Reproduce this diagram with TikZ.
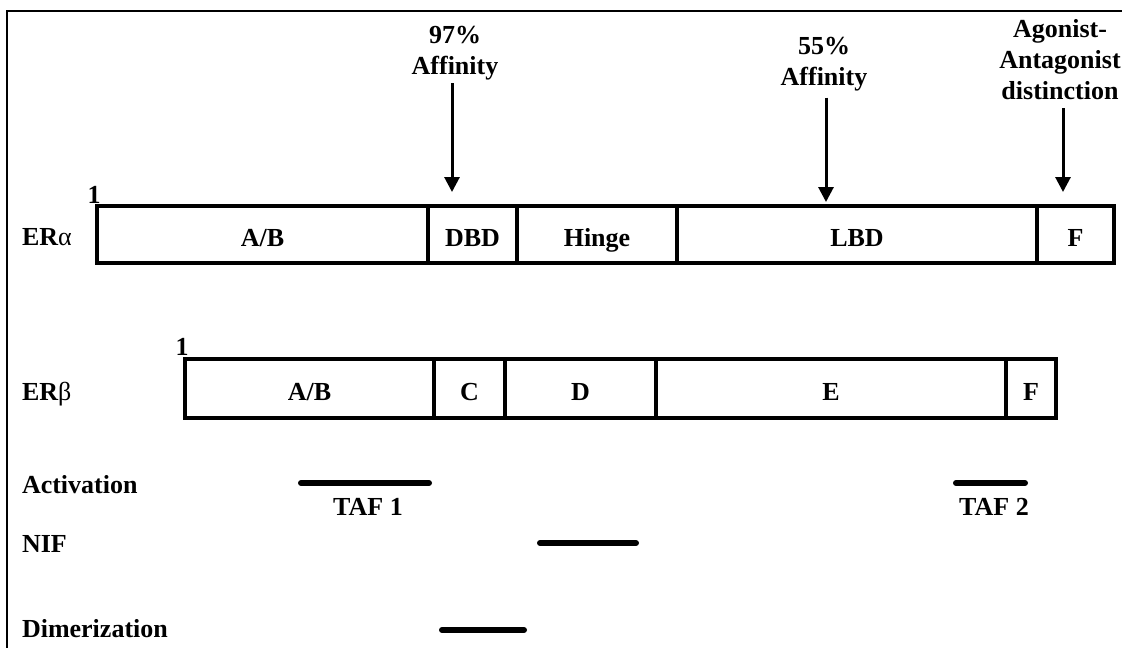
\documentclass[tikz,border=0pt]{standalone}
\usepackage{fontspec}
\setmainfont{Liberation Serif}
\usetikzlibrary{arrows.meta,calc}
\begin{document}
\begin{tikzpicture}[x=1pt,y=-1pt,
  every node/.style={font=\fontsize{26}{31}\selectfont\bfseries, inner sep=0pt, outer sep=0pt},
  seg/.style={draw, line width=4pt, text height=24pt, text depth=0pt, anchor=north west},
  segA/.style={seg, minimum height=57pt},
  segB/.style={seg, minimum height=59pt},
  lbl/.style={anchor=base west},
  toplbl/.style={anchor=south, align=center},
  arr/.style={line width=3pt, -{Triangle[length=15pt,width=15pt]}},
  dombar/.style={line width=6pt, line cap=round},
  frameline/.style={line width=1.2pt}]
\useasboundingbox (0,0) rectangle (1122,648);
% frame
\coordinate (fbl) at (7,648);
\coordinate (ftl) at (7,11);
\coordinate (ftr) at (1122,11);
\draw[frameline] (fbl) -- (ftl) -- (ftr);

% ER alpha
\node[segA, minimum width=331pt] (a1) at (97,206) {A/B};
\node[segA, minimum width=89pt]  (a2) at (428,206) {DBD};
\node[segA, minimum width=160pt] (a3) at (517,206) {Hinge};
\node[segA, minimum width=360pt] (a4) at (677,206) {LBD};
\node[segA, minimum width=77pt]  (a5) at (1037,206) {F};
\node[anchor=base] (a1num) at ($(a1.north west)+(-3,-3)$) {1};
\node[lbl] (era) at (22,245) {ER{\mdseries α}};

% ER beta
\node[segB, minimum width=249pt] (b1) at (185,359) {A/B};
\node[segB, minimum width=71pt]  (b2) at (434,359) {C};
\node[segB, minimum width=151pt] (b3) at (505,359) {D};
\node[segB, minimum width=350pt] (b4) at (656,359) {E};
\node[segB, minimum width=50pt]  (b5) at (1006,359) {F};
\node[anchor=base] (b1num) at ($(b1.north west)+(-3,-4)$) {1};
\node[lbl] (erb) at (22,400) {ER{\mdseries β}};

% top labels and arrows
\node[toplbl] (l97) at (455,80.6) {97\%\\Affinity};
\node[toplbl] (l55) at (824,91.6) {55\%\\Affinity};
\node[toplbl] (lag) at (1060,100) {Agonist-\\Antagonist\\distinction};
\coordinate (t97) at (452,192);
\coordinate (t55) at (826,202);
\coordinate (tag) at (1063,192);
\draw[arr] ([yshift=-2.5pt]l97.south -| t97) -- (t97);
\draw[arr] ([yshift=-6pt]l55.south -| t55) -- (t55);
\draw[arr] ([yshift=-8pt]lag.south -| tag) -- (tag);

% functional domains
\node[lbl] (act) at (22,493) {Activation};
\node[lbl] (nif) at (22,552) {NIF};
\node[lbl] (dim) at (22,637) {Dimerization};
\coordinate (taf1s) at (301,483);
\coordinate (taf1e) at (429,483);
\coordinate (taf2s) at (956,483);
\coordinate (taf2e) at (1025,483);
\coordinate (nifs) at (540,543);
\coordinate (nife) at (636,543);
\coordinate (dims) at (442,630);
\coordinate (dime) at (524,630);
\draw[dombar] (taf1s) -- (taf1e);
\draw[dombar] (taf2s) -- (taf2e);
\draw[dombar] (nifs) -- (nife);
\draw[dombar] (dims) -- (dime);
\node[anchor=base] (taf1) at (368,515) {TAF 1};
\node[anchor=base] (taf2) at (994,515) {TAF 2};
\end{tikzpicture}
\end{document}
